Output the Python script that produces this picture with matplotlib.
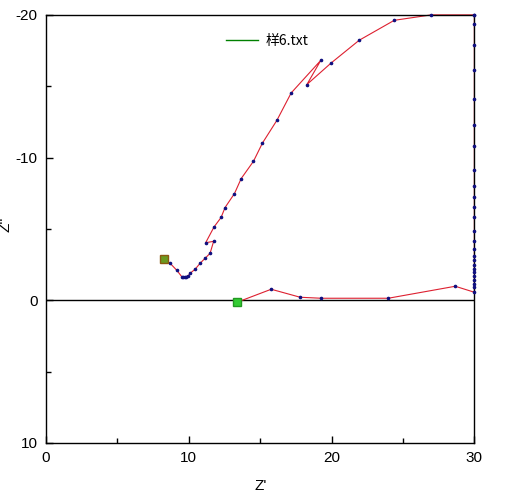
import matplotlib
matplotlib.use("Agg")
import matplotlib.pyplot as plt
from matplotlib.lines import Line2D
from matplotlib.ticker import MultipleLocator

plt.rcParams['font.family'] = ['Liberation Sans', 'Noto Sans CJK SC', 'DejaVu Sans']
plt.rcParams['axes.unicode_minus'] = False

# impedance data (Z', Z''), points outside the window sit on the frame
z_re = [13.38, 15.77, 17.80, 19.27, 23.97, 28.66, 30.0,
        30.0, 30.0, 30.0, 30.0, 30.0, 30.0, 30.0, 30.0, 30.0, 30.0,
        30.0, 30.0, 30.0, 30.0, 30.0, 30.0, 30.0, 30.0, 30.0, 30.0,
        30.0, 30.0, 30.0, 30.0, 30.0,
        26.98, 24.39, 21.93, 19.97, 18.27, 19.25, 17.17, 16.17, 15.16,
        14.53, 13.67, 13.20, 12.54, 12.26, 11.77, 11.18, 11.74, 11.49,
        11.14, 10.79, 10.44, 10.09, 9.95, 9.80, 9.70, 9.60, 9.50, 9.16,
        8.69, 8.25]
z_im = [0.14, -0.77, -0.21, -0.14, -0.14, -0.98, -0.56,
        -0.91, -1.12, -1.40, -1.68, -1.98, -2.22, -2.45, -2.80, -3.12,
        -3.57, -4.17, -4.87, -5.84, -6.54, -7.22, -7.99, -9.11, -10.81,
        -12.26, -14.09, -16.12, -17.92, -19.39, -20.0, -20.0,
        -20.0, -19.62, -18.22, -16.63, -15.12, -16.82, -14.53, -12.61,
        -11.02, -9.74, -8.53, -7.48, -6.50, -5.80, -5.14, -4.03, -4.13,
        -3.29, -2.94, -2.59, -2.17, -1.89, -1.70, -1.66, -1.62, -1.60,
        -1.66, -2.10, -2.59, -2.90]

legend_label = '样6.txt'

fig = plt.figure(figsize=(5.18, 4.96), dpi=100)
ax = fig.add_axes([0.0888, 0.107, 0.827, 0.863])

ax.axhline(0, color='black', linewidth=1.0, zorder=1)
ax.plot(z_re, z_im, color='#dd2030', linewidth=0.8, zorder=2, clip_on=False)
ax.plot(z_re, z_im, linestyle='none', marker='o', markersize=1.6,
        color='#101080', zorder=3, clip_on=False)
# first and last points
ax.plot(z_re[0], z_im[0], marker='s', markersize=5.5, color='#33cc33',
        markeredgecolor='#229922', linestyle='none', zorder=4, clip_on=False)
ax.plot(z_re[-1], z_im[-1], marker='s', markersize=5.5, color='#6a9a20',
        markeredgecolor='#8a5a10', linestyle='none', zorder=4, clip_on=False)

ax.set_xlim(0, 30)
ax.set_ylim(10, -20)

ax.xaxis.set_major_locator(MultipleLocator(10))
ax.xaxis.set_minor_locator(MultipleLocator(5))
ax.yaxis.set_major_locator(MultipleLocator(10))
ax.yaxis.set_minor_locator(MultipleLocator(5))
ax.tick_params(which='both', direction='in', top=False, right=False,
               labelsize=11, width=1.0)
ax.tick_params(which='major', length=5, pad=6)
ax.tick_params(which='minor', length=3.5)
for sp in ax.spines.values():
    sp.set_linewidth(1.0)

ax.set_xlabel("Z'", fontsize=11)
ax.xaxis.set_label_coords(0.5, -0.085)
ax.set_ylabel("Z''", fontsize=11)
ax.yaxis.set_label_coords(-0.078, 0.51)

h = Line2D([], [], color='#008000', linewidth=1.0)
ax.legend([h], [legend_label], frameon=False, loc='upper left',
          bbox_to_anchor=(0.39, 0.985), handlelength=2.3, handletextpad=0.6,
          prop={'family': ['Noto Sans CJK SC', 'DejaVu Sans'], 'size': 10})

fig.savefig('out.png', dpi=100)
